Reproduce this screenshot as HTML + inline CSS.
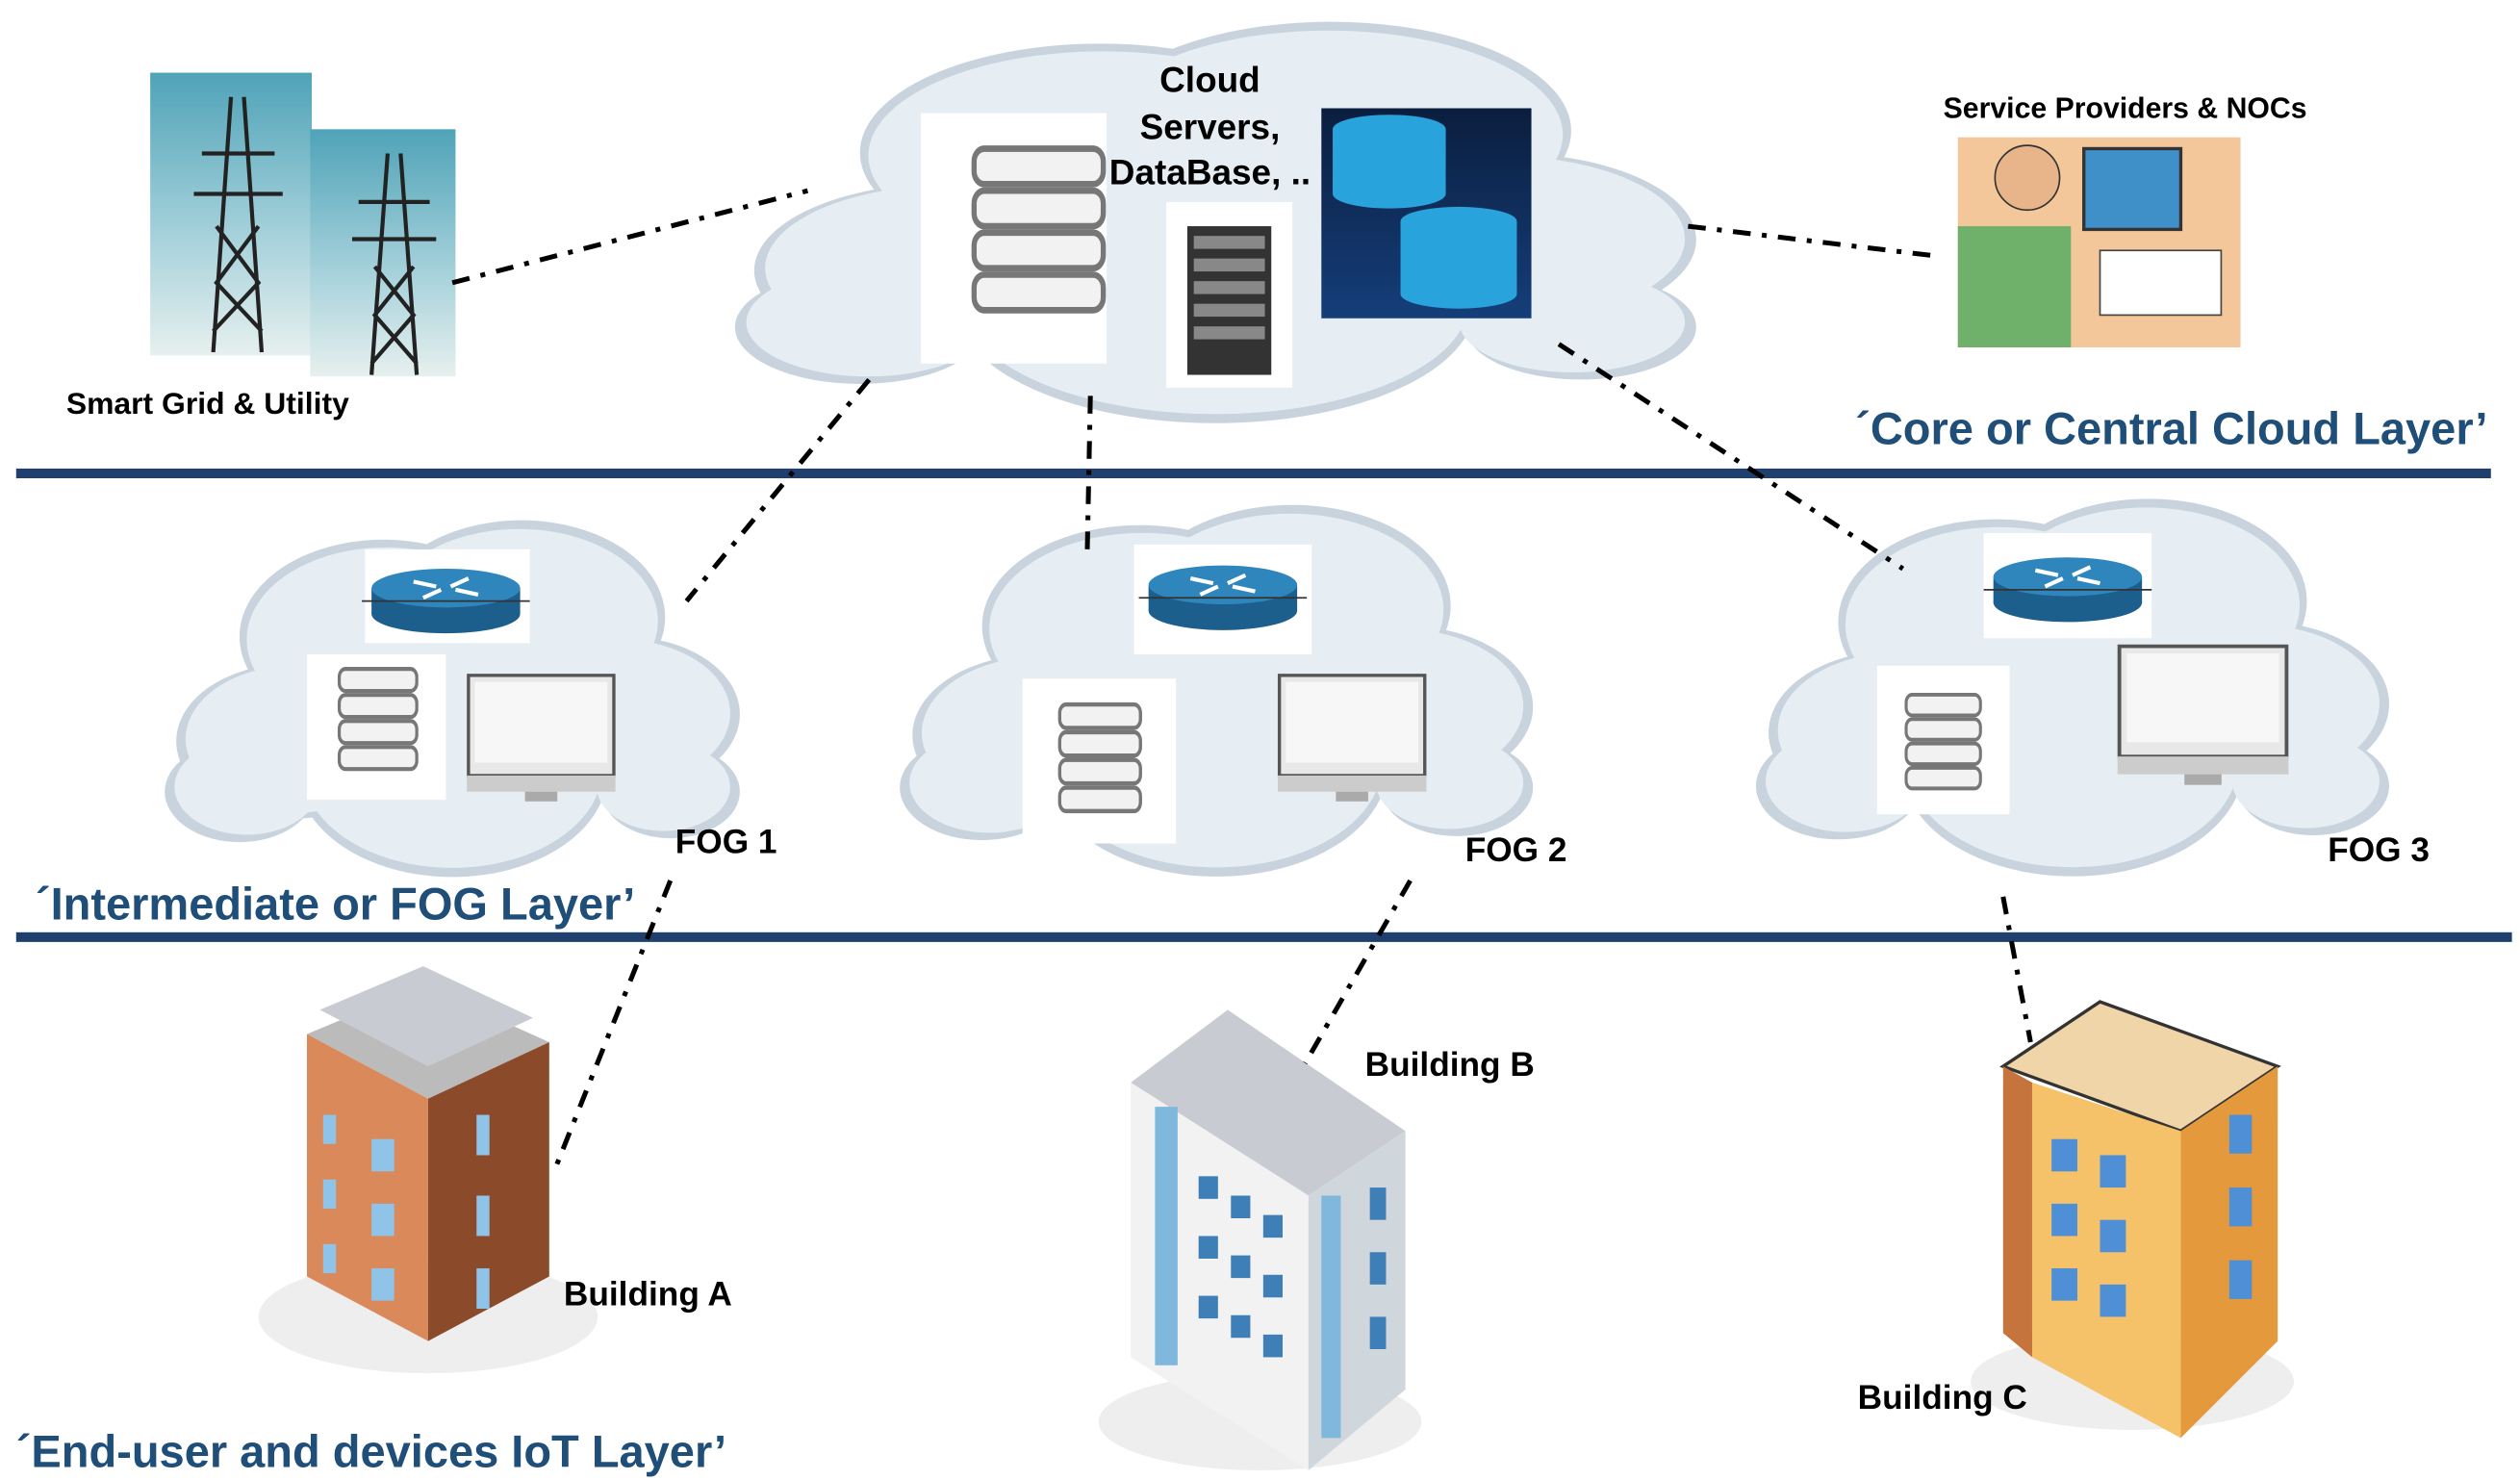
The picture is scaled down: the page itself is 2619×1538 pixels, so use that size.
<!DOCTYPE html>
<html><head><meta charset="utf-8"><style>
html,body{margin:0;padding:0;background:#fff;}
svg{display:block;}
text{font-family:"Liberation Sans",sans-serif;font-weight:bold;}
</style></head><body>
<svg width="2619" height="1538" viewBox="0 0 1560 916" preserveAspectRatio="none" xmlns="http://www.w3.org/2000/svg">
<defs>
<linearGradient id="sky" x1="0" y1="0" x2="0" y2="1"><stop offset="0" stop-color="#4fa3b8"/><stop offset="0.6" stop-color="#a9d3dc"/><stop offset="1" stop-color="#e6f0ee"/></linearGradient>
<linearGradient id="db" x1="0" y1="0" x2="0" y2="1"><stop offset="0" stop-color="#0b1e3e"/><stop offset="1" stop-color="#153e7a"/></linearGradient>
<g id="cloudshape">
<circle cx="0.22" cy="0.62" r="0.2"/><circle cx="0.38" cy="0.35" r="0.25"/><circle cx="0.62" cy="0.3" r="0.25"/>
<circle cx="0.8" cy="0.55" r="0.2"/><circle cx="0.5" cy="0.7" r="0.27"/><circle cx="0.13" cy="0.75" r="0.13"/><circle cx="0.88" cy="0.75" r="0.12"/>
</g>
<g id="srv">
<rect x="0" y="0" width="1" height="0.22" rx="0.08" fill="#f2f2f2" stroke="#777" stroke-width="0.04"/>
<rect x="0" y="0.26" width="1" height="0.22" rx="0.08" fill="#f2f2f2" stroke="#777" stroke-width="0.04"/>
<rect x="0" y="0.52" width="1" height="0.22" rx="0.08" fill="#f2f2f2" stroke="#777" stroke-width="0.04"/>
<rect x="0" y="0.78" width="1" height="0.22" rx="0.08" fill="#f2f2f2" stroke="#777" stroke-width="0.04"/>
</g>
<g id="router">
<ellipse cx="0" cy="16" rx="46" ry="12" fill="#1d5f8c"/>
<rect x="-46" y="0" width="92" height="16" fill="#1d5f8c"/>
<ellipse cx="0" cy="0" rx="46" ry="12" fill="#2e86bd"/>
<path d="M-20 -4 L-6 -1 M20 4 L6 1 M-14 6 L-3 1 M14 -6 L3 -1" stroke="#fff" stroke-width="2.5"/>
<line x1="-52" y1="8" x2="52" y2="8" stroke="#333" stroke-width="1"/>
</g>
<g id="monitor">
<rect x="0" y="0" width="90" height="62" fill="#e8e8e8" stroke="#555" stroke-width="2"/>
<rect x="4" y="4" width="82" height="50" fill="#f7f7f7"/>
<rect x="-1" y="62" width="92" height="10" fill="#ccc"/>
<rect x="35" y="72" width="20" height="6" fill="#aaa"/>
</g>
</defs>
<rect width="1560" height="916" fill="#fff"/>

<!-- clouds -->
<g transform="translate(455,0) scale(595,270)" fill="#c8d3de"><use href="#cloudshape"/></g>
<g transform="translate(462,6) scale(581,258)" fill="#e6edf3"><use href="#cloudshape"/></g>
<g transform="translate(102,310) scale(356,240)" fill="#c8d3de"><use href="#cloudshape"/></g>
<g transform="translate(108,316) scale(344,228)" fill="#e6edf3"><use href="#cloudshape"/></g>
<g transform="translate(557,300) scale(392,250)" fill="#c8d3de"><use href="#cloudshape"/></g>
<g transform="translate(563,306) scale(380,238)" fill="#e6edf3"><use href="#cloudshape"/></g>
<g transform="translate(1087,296) scale(392,254)" fill="#c8d3de"><use href="#cloudshape"/></g>
<g transform="translate(1093,302) scale(380,242)" fill="#e6edf3"><use href="#cloudshape"/></g>

<!-- core cloud contents -->
<rect x="570" y="70" width="115" height="155" fill="#fff"/>
<g transform="translate(603,92) scale(80,100)"><use href="#srv"/></g>
<rect x="722" y="125" width="78" height="115" fill="#fff"/>
<rect x="735" y="140" width="52" height="92" fill="#333"/>
<g fill="#888"><rect x="739" y="146" width="44" height="8"/><rect x="739" y="160" width="44" height="8"/><rect x="739" y="174" width="44" height="8"/><rect x="739" y="188" width="44" height="8"/><rect x="739" y="202" width="44" height="8"/></g>
<rect x="818" y="67" width="130" height="130" fill="url(#db)"/>
<g fill="#29a3dc"><ellipse cx="860" cy="80" rx="35" ry="9"/><rect x="825" y="80" width="70" height="40"/><ellipse cx="860" cy="120" rx="35" ry="9"/></g>
<g fill="#29a3dc"><ellipse cx="903" cy="137" rx="36" ry="9"/><rect x="867" y="137" width="72" height="45"/><ellipse cx="903" cy="182" rx="36" ry="9"/></g>
<text x="749" y="57" font-size="22" text-anchor="middle">Cloud</text>
<text x="749" y="86" font-size="22" text-anchor="middle">Servers,</text>
<text x="749" y="114" font-size="22" text-anchor="middle">DataBase, ..</text>

<!-- towers -->
<rect x="93" y="45" width="100" height="175" fill="url(#sky)"/>
<rect x="192" y="80" width="90" height="153" fill="url(#sky)"/>
<g stroke="#222" stroke-width="2.5" fill="none">
<path d="M143 60 L132 218 M151 60 L162 218 M125 95 L170 95 M120 120 L175 120 M134 140 L160 175 L132 205 M160 140 L134 175 L162 205"/>
<path d="M240 95 L230 232 M248 95 L258 232 M222 125 L266 125 M218 148 L270 148 M232 165 L256 195 L230 225 M256 165 L232 195 L258 225"/>
</g>
<text x="41" y="256" font-size="19">Smart Grid &amp; Utility</text>

<!-- person -->
<rect x="1212" y="85" width="175" height="130" fill="#f4c79a"/>
<rect x="1290" y="92" width="60" height="50" fill="#3f8fc9" stroke="#333" stroke-width="2"/>
<circle cx="1255" cy="110" r="20" fill="#e8b58a" stroke="#333"/>
<rect x="1212" y="140" width="70" height="75" fill="#6fb06a"/>
<rect x="1300" y="155" width="75" height="40" fill="#fff" stroke="#444"/>
<text x="1203" y="73" font-size="18">Service Providers &amp; NOCs</text>

<text x="1540" y="275" font-size="28" fill="#1f4e79" text-anchor="end">´Core or Central Cloud Layer’</text>

<!-- lines -->
<rect x="10" y="290" width="1532" height="6" fill="#1f3f6e"/>
<rect x="10" y="577" width="1545" height="6" fill="#1f3f6e"/>

<!-- fog contents -->
<rect x="226" y="340" width="102" height="58" fill="#fff"/><g transform="translate(276,364)"><use href="#router"/></g>
<rect x="190" y="405" width="86" height="90" fill="#fff"/><g transform="translate(210,414) scale(48,62)"><use href="#srv"/></g>
<g transform="translate(290,418)"><use href="#monitor"/></g>
<text x="418" y="528" font-size="21">FOG 1</text>

<rect x="702" y="337" width="110" height="68" fill="#fff"/><g transform="translate(757,362)"><use href="#router"/></g>
<rect x="633" y="420" width="95" height="102" fill="#fff"/><g transform="translate(656,436) scale(50,66)"><use href="#srv"/></g>
<g transform="translate(792,418)"><use href="#monitor"/></g>
<text x="907" y="533" font-size="21">FOG 2</text>

<rect x="1228" y="330" width="104" height="65" fill="#fff"/><g transform="translate(1280,357)"><use href="#router"/></g>
<rect x="1162" y="412" width="82" height="92" fill="#fff"/><g transform="translate(1180,430) scale(46,58)"><use href="#srv"/></g>
<g transform="translate(1312,400) scale(1.15,1.1)"><use href="#monitor"/></g>
<text x="1441" y="533" font-size="21">FOG 3</text>

<text x="22" y="569" font-size="28" fill="#1f4e79">´Intermediate or FOG Layer’</text>

<!-- buildings -->
<ellipse cx="265" cy="815" rx="105" ry="35" fill="#eee"/>
<polygon points="190,640 262,610 340,645 265,680" fill="#bbb"/>
<polygon points="190,640 265,680 265,830 190,790" fill="#d9895a"/>
<polygon points="265,680 340,645 340,790 265,830" fill="#8b4a2a"/>
<polygon points="198,625 262,598 330,630 265,660" fill="#c8ccd2"/>
<g fill="#8fc4e8"><rect x="200" y="690" width="8" height="18"/><rect x="200" y="730" width="8" height="18"/><rect x="200" y="770" width="8" height="18"/><rect x="230" y="705" width="14" height="20"/><rect x="230" y="745" width="14" height="20"/><rect x="230" y="785" width="14" height="20"/><rect x="295" y="690" width="8" height="25"/><rect x="295" y="740" width="8" height="25"/><rect x="295" y="785" width="8" height="25"/></g>
<text x="349" y="808" font-size="21">Building A</text>

<ellipse cx="780" cy="880" rx="100" ry="30" fill="#eee"/>
<polygon points="700,670 760,625 870,700 810,740" fill="#c8ccd2"/>
<polygon points="700,670 810,740 810,910 700,840" fill="#f2f2f2"/>
<polygon points="810,740 870,700 870,860 810,910" fill="#cfd6dc"/>
<rect x="715" y="685" width="14" height="160" fill="#7fb8dc"/>
<rect x="818" y="740" width="12" height="150" fill="#7fb8dc"/>
<g fill="#3e7fb8"><rect x="742" y="728" width="12" height="14"/><rect x="762" y="740" width="12" height="14"/><rect x="782" y="752" width="12" height="14"/><rect x="742" y="765" width="12" height="14"/><rect x="762" y="777" width="12" height="14"/><rect x="782" y="789" width="12" height="14"/><rect x="742" y="802" width="12" height="14"/><rect x="762" y="814" width="12" height="14"/><rect x="782" y="826" width="12" height="14"/><rect x="848" y="735" width="10" height="20"/><rect x="848" y="775" width="10" height="20"/><rect x="848" y="815" width="10" height="20"/></g>
<text x="845" y="666" font-size="21">Building B</text>

<ellipse cx="1320" cy="855" rx="100" ry="30" fill="#eee"/>
<polygon points="1240,660 1300,620 1410,660 1350,700" fill="#f0d5a8" stroke="#333" stroke-width="2"/>
<polygon points="1240,660 1258,670 1258,840 1240,825" fill="#c6743e"/>
<polygon points="1258,670 1350,700 1350,890 1258,840" fill="#f5c26a"/>
<polygon points="1350,700 1410,660 1410,830 1350,890" fill="#e49a3c"/>
<g fill="#4f8fd6"><rect x="1270" y="705" width="16" height="20"/><rect x="1300" y="715" width="16" height="20"/><rect x="1270" y="745" width="16" height="20"/><rect x="1300" y="755" width="16" height="20"/><rect x="1270" y="785" width="16" height="20"/><rect x="1300" y="795" width="16" height="20"/><rect x="1380" y="690" width="14" height="24"/><rect x="1380" y="735" width="14" height="24"/><rect x="1380" y="780" width="14" height="24"/></g>
<text x="1150" y="872" font-size="21">Building C</text>

<text x="10" y="908" font-size="28" fill="#1f4e79">´End-user and devices IoT Layer’</text>

<!-- connectors -->
<g stroke="#000" stroke-width="3" stroke-dasharray="11 7 3 7" fill="none">
<line x1="280" y1="175" x2="500" y2="118"/>
<line x1="1045" y1="140" x2="1195" y2="158"/>
<line x1="538" y1="235" x2="425" y2="372"/>
<line x1="675" y1="245" x2="673" y2="345"/>
<line x1="965" y1="213" x2="1178" y2="352"/>
<line x1="415" y1="545" x2="343" y2="725"/>
<line x1="873" y1="545" x2="808" y2="658"/>
<line x1="1240" y1="555" x2="1257" y2="645"/>
</g>
</svg>
</body></html>
